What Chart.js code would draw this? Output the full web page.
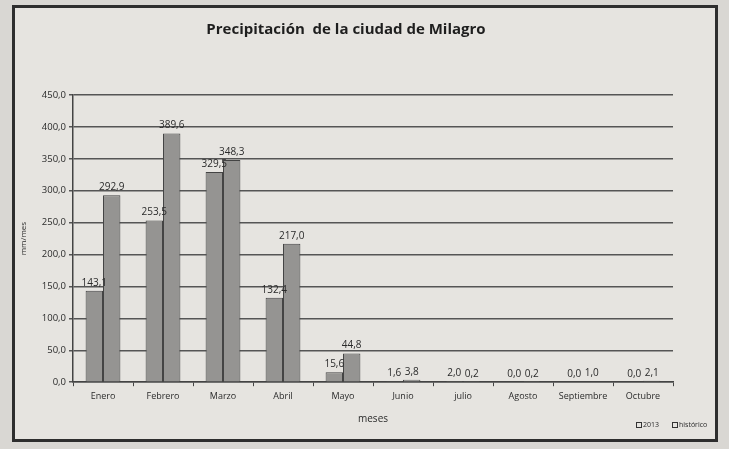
<!DOCTYPE html>
<html>
<head>
<meta charset="utf-8">
<script src="https://cdn.jsdelivr.net/npm/chart.js@4.4.1/dist/chart.umd.min.js"></script>
<style>
    html, body { margin: 0; padding: 0; background: #d9d7d3; }
    #marco {
        position: absolute; left: 12px; top: 5px; width: 700px; height: 431px;
        border: 3px solid #2e2e2e; background: #e6e4e0;
    }
    #marco canvas { display: block; }
</style>
</head>
<body>
<div id="marco"><canvas id="graficoLluvia" width="700" height="431"></canvas></div>
<script>
const meses = ['Enero', 'Febrero', 'Marzo', 'Abril', 'Mayo', 'Junio', 'julio', 'Agosto', 'Septiembre', 'Octubre'];
const lluvia2013 = [143.1, 253.5, 329.5, 132.4, 15.6, 1.6, 2.0, 0.0, 0.0, 0.0];
const historico = [292.9, 389.6, 348.3, 217.0, 44.8, 3.8, 0.2, 0.2, 1.0, 2.1];
const ticksY = [0, 50, 100, 150, 200, 250, 300, 350, 400, 450];

const formato = v => v.toFixed(1).replace('.', ',');

// etiquetas encima de cada barra
const etiquetas = {
    id: 'etiquetas',
    afterDatasetsDraw(chart) {
        const ctx = chart.ctx;
        ctx.save();
        ctx.font = '10px "Open Sans", sans-serif';
        ctx.fillStyle = '#2a2a2a';
        ctx.textAlign = 'center';
        ctx.textBaseline = 'bottom';
        chart.data.datasets.forEach((ds, i) => {
            chart.getDatasetMeta(i).data.forEach((bar, j) => {
                ctx.fillText(formato(ds.data[j]), bar.x, bar.y - 3);
            });
        });
        ctx.restore();
    }
};

// leyenda pequeña abajo a la derecha
const leyenda = {
    id: 'leyenda',
    afterDraw(chart) {
        const ctx = chart.ctx;
        const y = chart.height - 14;
        let x = chart.width - 79;
        ctx.save();
        ctx.font = '7px "Open Sans", sans-serif';
        ctx.textBaseline = 'middle';
        ctx.strokeStyle = '#333';
        ctx.fillStyle = '#2a2a2a';
        ctx.lineWidth = 1;
        chart.data.datasets.forEach(ds => {
            ctx.strokeRect(x + 0.5, y - 2.5, 5, 5);
            ctx.fillText(ds.label, x + 7, y);
            x += 36;
        });
        ctx.restore();
    }
};

const ctx = document.getElementById('graficoLluvia').getContext('2d');
new Chart(ctx, {
    type: 'bar',
    data: {
        labels: meses,
        datasets: [{
            label: '2013',
            data: lluvia2013,
            backgroundColor: '#959492',
            borderColor: '#444',
            borderWidth: 1
        }, {
            label: 'histórico',
            data: historico,
            backgroundColor: '#959492',
            borderColor: '#444',
            borderWidth: 1
        }]
    },
    options: {
        responsive: false,
        animation: false,
        layout: { padding: { top: 0, right: 42, bottom: 14, left: 4 } },
        datasets: { bar: { categoryPercentage: 0.58, barPercentage: 1.0 } },
        plugins: {
            title: {
                display: true,
                text: 'Precipitación  de la ciudad de Milagro',
                color: '#1e1e1e',
                font: { family: '"Open Sans", sans-serif', size: 15, weight: 'bold' },
                padding: { top: 13, bottom: 56 }
            },
            legend: { display: false },
            tooltip: { enabled: false }
        },
        scales: {
            x: {
                grid: { display: true, drawOnChartArea: false, drawTicks: true, tickLength: 4, color: '#444', offset: true },
                border: { color: '#444', width: 1.5 },
                ticks: { color: '#2a2a2a', font: { family: '"Open Sans", sans-serif', size: 9 }, maxRotation: 0, padding: 5 },
                title: { display: true, text: 'meses', color: '#2a2a2a', font: { family: '"Open Sans", sans-serif', size: 10 }, padding: { top: 6, bottom: 0 } }
            },
            y: {
                min: 0,
                max: 450,
                afterBuildTicks: axis => { axis.ticks = ticksY.map(v => ({ value: v })); },
                afterFit: axis => { axis.width = 54; },
                grid: { color: '#555', lineWidth: 1.5, tickLength: 4 },
                border: { color: '#444', width: 1.5 },
                ticks: { color: '#2a2a2a', font: { family: '"Open Sans", sans-serif', size: 9.5 }, padding: 3, callback: v => formato(v) },
                title: { display: true, text: 'mm/mes', color: '#2a2a2a', font: { family: '"Open Sans", sans-serif', size: 8 }, padding: 0 }
            }
        }
    },
    plugins: [etiquetas, leyenda]
});
</script>
</body>
</html>
